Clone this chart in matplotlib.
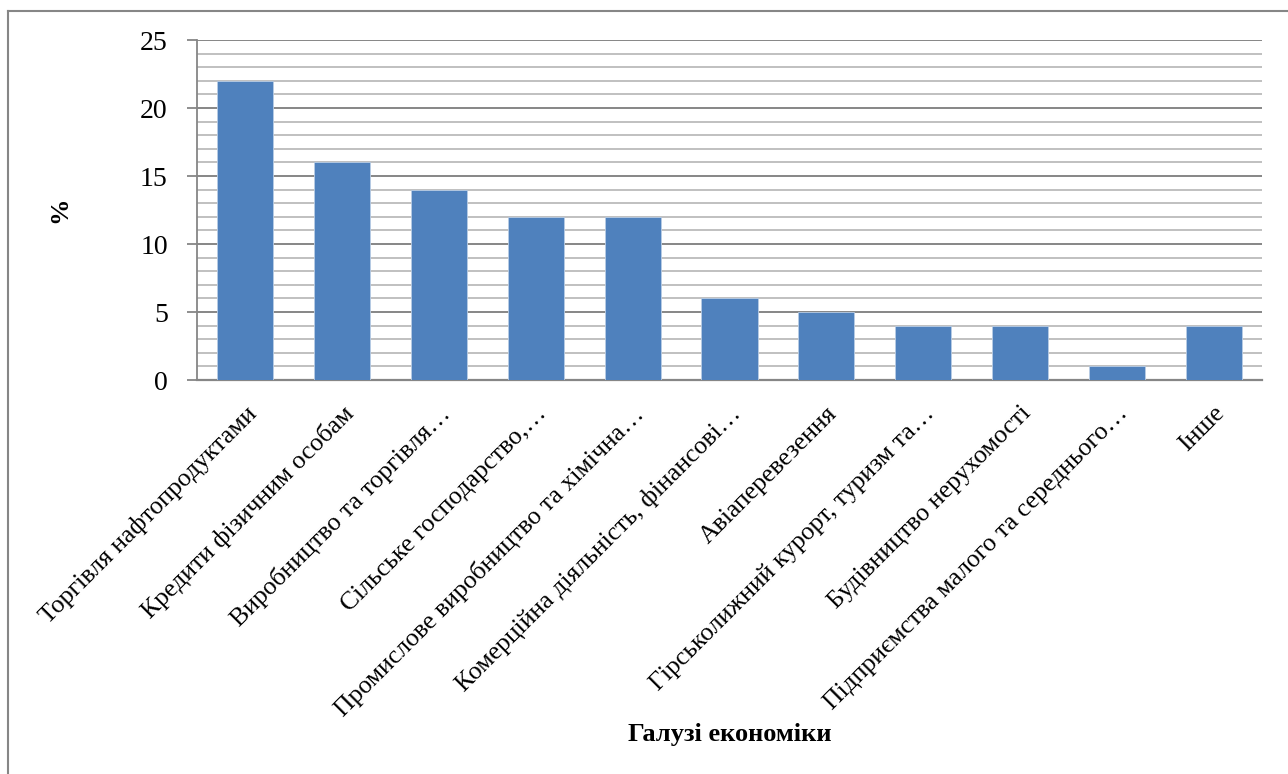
import matplotlib
matplotlib.use("Agg")
import matplotlib.pyplot as plt
from matplotlib.lines import Line2D
from matplotlib.ticker import MultipleLocator

categories = [
    "Торгівля нафтопродуктами",
    "Кредити фізичним особам",
    "Виробництво та торгівля…",
    "Сільське господарство,…",
    "Промислове виробництво та хімічна…",
    "Комерційна діяльність, фінансові…",
    "Авіаперевезення",
    "Гірськолижний курорт, туризм та…",
    "Будівництво нерухомості",
    "Підприємства малого та середнього…",
    "Інше",
]
values = [22, 16, 14, 12, 12, 6, 5, 4, 4, 1, 4]

plt.rcParams['font.family'] = ['Liberation Serif', 'DejaVu Serif']

W, H = 1288, 774
fig = plt.figure(figsize=(W / 100, H / 100), dpi=100)
ax = fig.add_axes([197 / W, 1 - 380 / H, (1262 - 197) / W, (380 - 40) / H])

x = range(len(categories))
ax.bar(x, values, width=0.58, color="#4F81BD", edgecolor="#B9CDE5", linewidth=0.6, zorder=3)

ax.set_xlim(-0.5, len(categories) - 0.5)
ax.set_ylim(0, 25)
ax.yaxis.set_major_locator(MultipleLocator(5))
ax.yaxis.set_minor_locator(MultipleLocator(1))
ax.grid(True, which="major", axis="y", color="#868686", linewidth=1.4, zorder=0)
ax.grid(True, which="minor", axis="y", color="#C0C0C0", linewidth=1.4, zorder=0)

for s in ["top", "right"]:
    ax.spines[s].set_visible(False)
ax.spines["left"].set_color("#868686")
ax.spines["left"].set_linewidth(1.3)
ax.spines["bottom"].set_color("#868686")
ax.spines["bottom"].set_linewidth(1.6)

ax.tick_params(axis="y", which="major", length=7, color="#868686", width=1.3, labelsize=20, pad=14)
ax.tick_params(axis="y", which="minor", length=0)
ax.tick_params(axis="x", length=0, pad=16)
ax.set_xticks(list(x))
ax.set_xticklabels(categories, rotation=45, ha="right", rotation_mode="anchor", fontsize=18.5)

fig.text(60 / W, 1 - 210 / H, "%", rotation=90, fontsize=19, fontweight="bold", ha="center", va="center")
fig.text(730 / W, 1 - 735 / H, "Галузі економіки", fontsize=19, fontweight="bold", ha="center", va="center")

fig.add_artist(Line2D([8 / W, 1], [1 - 10.5 / H, 1 - 10.5 / H], color="#868686", linewidth=1.5, transform=fig.transFigure))
fig.add_artist(Line2D([8 / W, 8 / W], [0, 1 - 10.5 / H], color="#868686", linewidth=1.5, transform=fig.transFigure))

fig.savefig("out.png", dpi=100)
